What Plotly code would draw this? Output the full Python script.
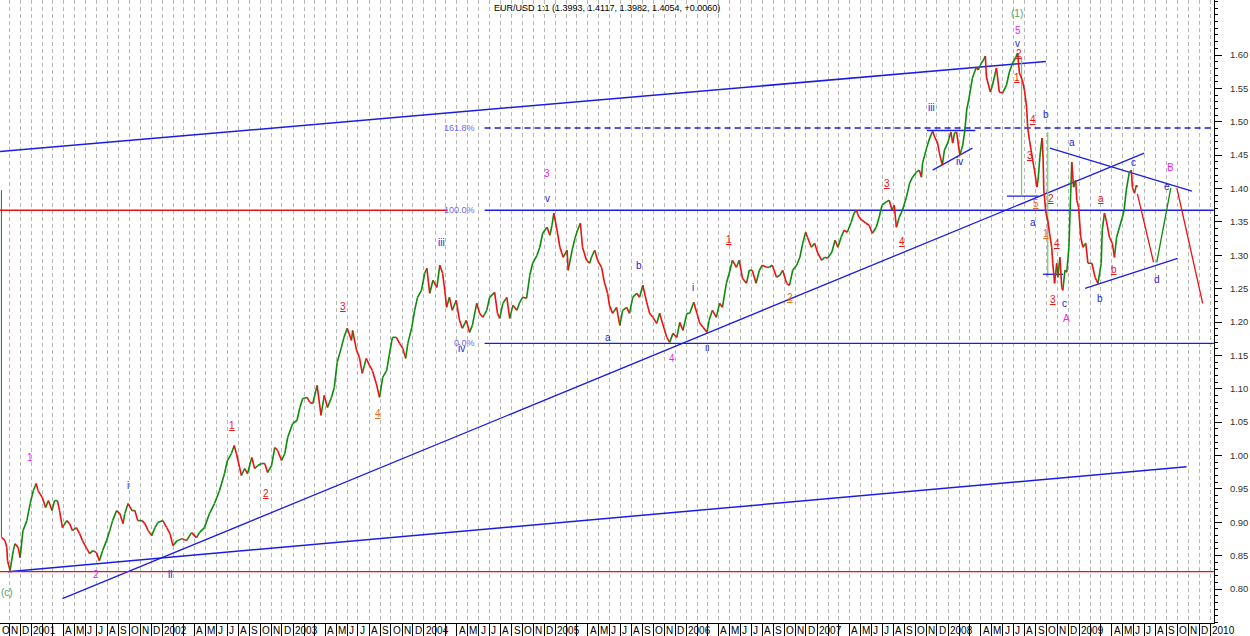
import plotly.graph_objects as go

# ---- data ----
title_text = "EUR/USD 1:1 (1.3993, 1.4117, 1.3982, 1.4054, +0.0060)"

dates = [
    "2000-10-11", "2000-10-20", "2000-10-25", "2000-10-27", "2000-11-03", "2000-11-12", "2000-11-17", "2000-11-26",
    "2000-12-01", "2000-12-09", "2000-12-20", "2000-12-29", "2001-01-07", "2001-01-15", "2001-01-20", "2001-02-01",
    "2001-02-10", "2001-02-18", "2001-02-28", "2001-03-07", "2001-03-15", "2001-03-21", "2001-03-29", "2001-04-10",
    "2001-04-18", "2001-04-26", "2001-05-07", "2001-05-16", "2001-05-24", "2001-06-05", "2001-06-13", "2001-06-22",
    "2001-07-02", "2001-07-10", "2001-07-19", "2001-07-30", "2001-08-08", "2001-08-16", "2001-08-27", "2001-09-05",
    "2001-09-14", "2001-09-19", "2001-09-28", "2001-10-09", "2001-10-17", "2001-10-25", "2001-11-06", "2001-11-14",
    "2001-11-23", "2001-12-03", "2001-12-12", "2001-12-20", "2002-01-03", "2002-01-14", "2002-01-23", "2002-01-31",
    "2002-02-12", "2002-02-26", "2002-03-10", "2002-03-24", "2002-04-07", "2002-04-15", "2002-04-29", "2002-05-13",
    "2002-05-27", "2002-06-10", "2002-06-24", "2002-07-02", "2002-07-13", "2002-07-21", "2002-07-27", "2002-08-05",
    "2002-08-10", "2002-08-19", "2002-08-27", "2002-09-08", "2002-09-16", "2002-09-25", "2002-10-05", "2002-10-14",
    "2002-10-22", "2002-11-02", "2002-11-11", "2002-11-19", "2002-11-30", "2002-12-09", "2002-12-17", "2002-12-31",
    "2003-01-12", "2003-01-20", "2003-01-28", "2003-02-09", "2003-02-17", "2003-02-25", "2003-03-09", "2003-03-20",
    "2003-03-29", "2003-04-07", "2003-04-18", "2003-04-26", "2003-05-04", "2003-05-15", "2003-05-23", "2003-06-01",
    "2003-06-13", "2003-06-16", "2003-06-27", "2003-07-05", "2003-07-13", "2003-07-24", "2003-08-02", "2003-08-10",
    "2003-08-21", "2003-08-30", "2003-09-08", "2003-09-19", "2003-09-27", "2003-10-05", "2003-10-16", "2003-10-25",
    "2003-11-03", "2003-11-11", "2003-11-17", "2003-11-28", "2003-12-06", "2003-12-14", "2003-12-25", "2004-01-03",
    "2004-01-09", "2004-01-17", "2004-01-26", "2004-02-06", "2004-02-14", "2004-02-22", "2004-02-28", "2004-03-04",
    "2004-03-12", "2004-03-20", "2004-03-31", "2004-04-09", "2004-04-17", "2004-04-28", "2004-05-07", "2004-05-15",
    "2004-05-27", "2004-06-04", "2004-06-13", "2004-06-24", "2004-07-02", "2004-07-16", "2004-07-24", "2004-07-30",
    "2004-08-08", "2004-08-19", "2004-08-27", "2004-09-05", "2004-09-16", "2004-09-24", "2004-10-02", "2004-10-13",
    "2004-10-22", "2004-10-30", "2004-11-11", "2004-11-19", "2004-11-27", "2004-12-09", "2004-12-17", "2004-12-23",
    "2004-12-28", "2005-01-06", "2005-01-14", "2005-01-23", "2005-02-03", "2005-02-06", "2005-02-17", "2005-02-25",
    "2005-03-04", "2005-03-12", "2005-03-18", "2005-03-29", "2005-04-07", "2005-04-12", "2005-04-21", "2005-04-29",
    "2005-05-10", "2005-05-18", "2005-05-27", "2005-06-01", "2005-06-10", "2005-06-21", "2005-06-30", "2005-07-08",
    "2005-07-19", "2005-07-27", "2005-08-05", "2005-08-16", "2005-08-24", "2005-09-02", "2005-09-13", "2005-09-21",
    "2005-09-30", "2005-10-11", "2005-10-19", "2005-10-27", "2005-11-08", "2005-11-16", "2005-11-25", "2005-12-06",
    "2005-12-14", "2005-12-23", "2006-01-03", "2006-01-11", "2006-01-22", "2006-01-31", "2006-02-08", "2006-02-17",
    "2006-02-28", "2006-03-06", "2006-03-15", "2006-03-26", "2006-04-04", "2006-04-12", "2006-04-23", "2006-05-01",
    "2006-05-10", "2006-05-21", "2006-05-29", "2006-06-07", "2006-06-18", "2006-06-26", "2006-07-04", "2006-07-15",
    "2006-07-24", "2006-08-01", "2006-08-13", "2006-08-21", "2006-08-29", "2006-09-10", "2006-09-19", "2006-09-27",
    "2006-10-08", "2006-10-16", "2006-10-25", "2006-11-05", "2006-11-14", "2006-11-22", "2006-11-30", "2006-12-05",
    "2006-12-16", "2006-12-25", "2007-01-03", "2007-01-14", "2007-01-22", "2007-01-30", "2007-02-11", "2007-02-20",
    "2007-02-28", "2007-03-09", "2007-03-17", "2007-03-26", "2007-04-06", "2007-04-14", "2007-04-20", "2007-04-28",
    "2007-05-06", "2007-05-17", "2007-05-26", "2007-06-04", "2007-06-15", "2007-06-23", "2007-07-01", "2007-07-12",
    "2007-07-21", "2007-07-29", "2007-08-04", "2007-08-10", "2007-08-18", "2007-08-27", "2007-09-07", "2007-09-16",
    "2007-09-24", "2007-10-05", "2007-10-13", "2007-10-19", "2007-10-22", "2007-11-03", "2007-11-11", "2007-11-19",
    "2007-11-25", "2007-12-03", "2007-12-08", "2007-12-16", "2007-12-22", "2007-12-31", "2008-01-09", "2008-01-14",
    "2008-01-19", "2008-01-25", "2008-02-03", "2008-02-11", "2008-02-17", "2008-02-22", "2008-02-29", "2008-03-09",
    "2008-03-20", "2008-03-25", "2008-04-03", "2008-04-09", "2008-04-14", "2008-04-17", "2008-04-28", "2008-05-04",
    "2008-05-15", "2008-05-23", "2008-06-01", "2008-06-12", "2008-06-20", "2008-06-29", "2008-07-07", "2008-07-13",
    "2008-07-18", "2008-07-26", "2008-08-01", "2008-08-07", "2008-08-10", "2008-08-15", "2008-08-21", "2008-08-24",
    "2008-08-29", "2008-09-05", "2008-09-08", "2008-09-13", "2008-09-19", "2008-09-22", "2008-09-24", "2008-09-30",
    "2008-10-05", "2008-10-10", "2008-10-16", "2008-10-19", "2008-10-24", "2008-10-30", "2008-11-02", "2008-11-08",
    "2008-11-13", "2008-11-16", "2008-11-22", "2008-11-27", "2008-12-03", "2008-12-08", "2008-12-11", "2008-12-16",
    "2008-12-22", "2008-12-25", "2008-12-30", "2009-01-05", "2009-01-11", "2009-01-19", "2009-01-25", "2009-02-05",
    "2009-02-14", "2009-02-22", "2009-03-03", "2009-03-06", "2009-03-12", "2009-03-17", "2009-03-26", "2009-04-03",
    "2009-04-09", "2009-04-15", "2009-04-23", "2009-05-01", "2009-05-06", "2009-05-12", "2009-05-20", "2009-05-26",
    "2009-05-29", "2009-06-04", "2009-06-09", "2009-06-12",
]

closes = [
    0.877, 0.8725, 0.862, 0.8425, 0.8275, 0.8575, 0.868, 0.862,
    0.847, 0.8875, 0.9025, 0.928, 0.9475, 0.958, 0.9475, 0.937,
    0.922, 0.9325, 0.9175, 0.9325, 0.9325, 0.9175, 0.892, 0.9025,
    0.898, 0.8875, 0.892, 0.883, 0.8725, 0.8605, 0.853, 0.8575,
    0.8545, 0.8425, 0.8575, 0.8725, 0.8875, 0.9025, 0.9175, 0.913,
    0.898, 0.913, 0.928, 0.9175, 0.9175, 0.9025, 0.9025, 0.898,
    0.8875, 0.88, 0.892, 0.8995, 0.9025, 0.892, 0.883, 0.865,
    0.8725, 0.8755, 0.8725, 0.8845, 0.877, 0.8845, 0.892, 0.913,
    0.928, 0.9475, 0.973, 0.9925, 1.003, 1.015, 1.003, 0.982,
    0.97, 0.9805, 0.973, 0.997, 0.9805, 0.985, 0.988, 0.988,
    0.9745, 0.985, 1.012, 1.0075, 0.9925, 1.003, 1.027, 1.048,
    1.0525, 1.072, 1.0855, 1.087, 1.0795, 1.078, 1.105, 1.06,
    1.09, 1.072, 1.087, 1.102, 1.1395, 1.1605, 1.177, 1.1905,
    1.1725, 1.1875, 1.1575, 1.147, 1.123, 1.1455, 1.135, 1.1275,
    1.108, 1.087, 1.117, 1.1275, 1.153, 1.177, 1.177, 1.168,
    1.1605, 1.1455, 1.168, 1.192, 1.2175, 1.237, 1.2475, 1.273,
    1.2805, 1.243, 1.2625, 1.252, 1.285, 1.273, 1.2475, 1.222,
    1.237, 1.2175, 1.2325, 1.2025, 1.1905, 1.2025, 1.1845, 1.195,
    1.228, 1.213, 1.207, 1.2175, 1.237, 1.2445, 1.213, 1.2055,
    1.228, 1.237, 1.2055, 1.225, 1.2175, 1.2295, 1.237, 1.2355,
    1.27, 1.288, 1.3, 1.312, 1.333, 1.342, 1.33, 1.345,
    1.363, 1.3375, 1.312, 1.297, 1.3075, 1.2775, 1.3075, 1.3255,
    1.3375, 1.348, 1.312, 1.2925, 1.288, 1.297, 1.3075, 1.2925,
    1.282, 1.2595, 1.243, 1.225, 1.213, 1.222, 1.195, 1.2175,
    1.222, 1.213, 1.237, 1.243, 1.237, 1.255, 1.2295, 1.213,
    1.207, 1.198, 1.213, 1.198, 1.177, 1.1695, 1.183, 1.177,
    1.1995, 1.1875, 1.213, 1.213, 1.2295, 1.213, 1.198, 1.192,
    1.1845, 1.2025, 1.2175, 1.207, 1.228, 1.222, 1.258, 1.273,
    1.2925, 1.282, 1.2925, 1.2655, 1.258, 1.2775, 1.2775, 1.258,
    1.2775, 1.285, 1.282, 1.282, 1.285, 1.267, 1.27, 1.2775,
    1.258, 1.255, 1.2775, 1.285, 1.297, 1.318, 1.3345, 1.327,
    1.312, 1.318, 1.303, 1.2925, 1.297, 1.2955, 1.3045, 1.3225,
    1.312, 1.327, 1.3375, 1.3345, 1.3495, 1.363, 1.3675, 1.357,
    1.3525, 1.348, 1.345, 1.333, 1.342, 1.357, 1.375, 1.3795,
    1.3825, 1.3675, 1.375, 1.342, 1.357, 1.3675, 1.387, 1.408,
    1.417, 1.4245, 1.4275, 1.417, 1.438, 1.462, 1.4755, 1.486,
    1.477, 1.468, 1.453, 1.435, 1.4575, 1.468, 1.4845, 1.468,
    1.483, 1.4845, 1.45, 1.465, 1.4875, 1.5175, 1.537, 1.5655,
    1.582, 1.5775, 1.588, 1.5925, 1.5985, 1.567, 1.5445, 1.555,
    1.5805, 1.5445, 1.543, 1.555, 1.5745, 1.588, 1.5955, 1.603,
    1.573, 1.5625, 1.5475, 1.522, 1.492, 1.4725, 1.453, 1.4425,
    1.4275, 1.402, 1.4125, 1.447, 1.4755, 1.447, 1.3975, 1.363,
    1.3525, 1.333, 1.312, 1.288, 1.258, 1.288, 1.267, 1.297,
    1.252, 1.2475, 1.2775, 1.2745, 1.312, 1.393, 1.4395, 1.402,
    1.4125, 1.3825, 1.372, 1.327, 1.312, 1.318, 1.288, 1.288,
    1.267, 1.258, 1.288, 1.3375, 1.363, 1.3525, 1.327, 1.318,
    1.297, 1.327, 1.342, 1.357, 1.3675, 1.3975, 1.423, 1.4275,
    1.402, 1.393, 1.405, 1.402,
]

# price labels shown on the right axis
y_ticks = [0.80, 0.85, 0.90, 0.95, 1.00, 1.05, 1.10, 1.15, 1.20, 1.25, 1.30,
           1.35, 1.40, 1.45, 1.50, 1.55, 1.60]

# Fibonacci levels and their labels
fib_labels = ["161.8%", "100.0%", "0.0%"]
fib_levels = [1.4905, 1.3675, 1.168]
fib_label_date = "2004-05-29"

BLUE = "#1c1ce8"
RED = "#ee1111"
GREEN = "#0b8c0b"
MAGENTA = "#ee22ee"
ORANGE = "#e2701c"
LIME = "#55dd55"
OLIVE = "#5c9e5c"
FIBTXT = "#6a6af0"

# drawn lines: start date, start price, end date, end price, colour, width, dash
drawn_lines = [
    ("2000-10-06", 1.4554, "2008-09-30", 1.5904, BLUE, 1.5, "solid"),
    ("2000-10-28", 0.826, "2009-10-27", 0.983, BLUE, 1.5, "solid"),
    ("2001-03-29", 0.7855, "2009-07-01", 1.453, BLUE, 1.3, "solid"),
    ("2000-10-06", 0.826, "2010-01-11", 0.826, RED, 1.3, "solid"),
    ("2000-10-06", 1.3675, "2004-03-07", 1.3675, RED, 1.5, "solid"),
    ("2004-06-18", 1.3675, "2010-01-11", 1.3675, BLUE, 1.5, "solid"),
    ("2004-06-18", 1.4905, "2010-01-11", 1.4905, BLUE, 1.5, "6px,4px"),
    ("2004-06-18", 1.168, "2010-01-11", 1.168, BLUE, 1.3, "solid"),
    ("2000-10-10", 1.3975, "2000-10-10", 0.877, "#1e7b1e", 1.0, "solid"),
    ("2007-11-03", 1.487, "2008-03-17", 1.487, BLUE, 1.5, "solid"),
    ("2007-11-19", 1.4275, "2008-03-09", 1.4605, BLUE, 1.2, "solid"),
    ("2008-06-13", 1.3885, "2008-09-10", 1.3885, BLUE, 1.3, "solid"),
    ("2008-07-24", 1.597, "2008-07-24", 1.3885, LIME, 1.2, "solid"),
    ("2008-10-05", 1.4845, "2008-10-05", 1.267, LIME, 1.2, "solid"),
    ("2008-09-22", 1.2715, "2008-11-17", 1.2715, BLUE, 1.3, "solid"),
    ("2008-10-11", 1.4605, "2009-11-11", 1.396, BLUE, 1.3, "solid"),
    ("2009-01-17", 1.2505, "2009-10-02", 1.2955, BLUE, 1.3, "solid"),
    ("2009-06-12", 1.392, "2009-07-27", 1.2895, RED, 1.3, "solid"),
    ("2009-08-05", 1.2895, "2009-09-13", 1.4005, GREEN, 1.3, "solid"),
    ("2009-09-30", 1.4005, "2009-12-11", 1.228, RED, 1.3, "solid"),
]

# wave labels: date, price, text, colour, underlined
wave_labels = [
    ("2008-07-10", 1.6615, "(1)", OLIVE, False),
    ("2008-07-13", 1.636, "5", MAGENTA, False),
    ("2008-07-13", 1.6165, "v", BLUE, False),
    ("2008-07-18", 1.603, "2", RED, True),
    ("2008-07-10", 1.567, "1", RED, True),
    ("2007-11-17", 1.522, "iii", BLUE, False),
    ("2008-02-03", 1.441, "iv", BLUE, False),
    ("2008-08-24", 1.504, "4", RED, True),
    ("2008-09-30", 1.5115, "b", BLUE, False),
    ("2008-08-16", 1.45, "3", RED, True),
    ("2008-12-11", 1.4695, "a", BLUE, False),
    ("2009-06-01", 1.4395, "c", BLUE, False),
    ("2008-09-02", 1.378, "5", ORANGE, True),
    ("2008-10-13", 1.3855, "2", RED, True),
    ("2009-03-03", 1.3855, "a", RED, True),
    ("2008-08-24", 1.3495, "a", BLUE, False),
    ("2008-09-30", 1.333, "1", ORANGE, True),
    ("2008-10-30", 1.318, "4", RED, True),
    ("2009-04-09", 1.279, "b", RED, True),
    ("2008-10-19", 1.234, "3", RED, True),
    ("2008-11-22", 1.228, "c", BLUE, False),
    ("2009-02-28", 1.2355, "b", BLUE, False),
    ("2008-11-25", 1.2055, "A", MAGENTA, False),
    ("2009-08-05", 1.264, "d", BLUE, False),
    ("2009-09-02", 1.4035, "e", BLUE, False),
    ("2009-09-13", 1.432, "B", MAGENTA, False),
    ("2000-12-29", 0.997, "1", MAGENTA, False),
    ("2001-09-28", 0.955, "i", BLUE, False),
    ("2001-07-02", 0.8215, "2", MAGENTA, False),
    ("2002-01-23", 0.8215, "ii", BLUE, False),
    ("2000-10-25", 0.7945, "(c)", OLIVE, False),
    ("2002-07-16", 1.045, "1", RED, True),
    ("2002-10-17", 0.943, "2", RED, True),
    ("2003-05-21", 1.2235, "3", RED, True),
    ("2003-08-25", 1.063, "4", ORANGE, True),
    ("2004-02-20", 1.3195, "iii", BLUE, False),
    ("2004-04-15", 1.1605, "iv", BLUE, False),
    ("2004-12-09", 1.423, "3", MAGENTA, False),
    ("2004-12-09", 1.3855, "v", BLUE, False),
    ("2005-08-22", 1.285, "b", BLUE, False),
    ("2005-05-29", 1.177, "a", BLUE, False),
    ("2005-11-22", 1.1455, "4", MAGENTA, False),
    ("2006-01-20", 1.252, "i", BLUE, False),
    ("2006-02-28", 1.162, "ii", BLUE, False),
    ("2006-04-29", 1.324, "1", RED, True),
    ("2006-10-17", 1.237, "2", ORANGE, True),
    ("2007-07-16", 1.408, "3", RED, True),
    ("2007-08-27", 1.321, "4", RED, True),
]

month_letters = "JFMAMJJASOND"
first_year, first_month = 2000, 10
n_months = 112  # Oct 2000 .. Jan 2010
x_start, x_end = "2000-10-06", "2010-01-11 12:00"

FONT = "Liberation Sans, Arial, sans-serif"

# ---- price line, split into rising (green) and falling (red) pieces ----
up_x, up_y, dn_x, dn_y = [], [], [], []
for i in range(1, len(dates)):
    seg_x = [dates[i - 1], dates[i], None]
    seg_y = [closes[i - 1], closes[i], None]
    if closes[i] >= closes[i - 1]:
        up_x += seg_x
        up_y += seg_y
    else:
        dn_x += seg_x
        dn_y += seg_y

fig = go.Figure()

for x0, y0, x1, y1, col, w, dash in drawn_lines:
    fig.add_trace(go.Scatter(x=[x0, x1], y=[y0, y1], mode="lines",
                             line=dict(color=col, width=w, dash=dash),
                             hoverinfo="skip", showlegend=False))

fig.add_trace(go.Scatter(x=up_x, y=up_y, mode="lines", line=dict(color=GREEN, width=1.6),
                         hoverinfo="skip", showlegend=False))
fig.add_trace(go.Scatter(x=dn_x, y=dn_y, mode="lines", line=dict(color=RED, width=1.6),
                         hoverinfo="skip", showlegend=False))

annotations = []
# title
annotations.append(dict(text=title_text, x=0.5, y=1, xref="paper", yref="paper",
                        xanchor="center", yanchor="top", yshift=-1, showarrow=False,
                        font=dict(family=FONT, size=9, color="black")))
# fib labels
for lab, lvl in zip(fib_labels, fib_levels):
    annotations.append(dict(text=lab, x=fib_label_date, y=lvl, xanchor="right", yanchor="middle",
                            showarrow=False, font=dict(family=FONT, size=9, color=FIBTXT)))
# wave labels
for d, p, t, col, ul in wave_labels:
    annotations.append(dict(text=f"<u>{t}</u>" if ul else t, x=d, y=p, showarrow=False,
                            xanchor="center", yanchor="middle",
                            font=dict(family=FONT, size=10, color=col)))
# month labels under the axis (first one starts at the left edge)
for k in range(n_months):
    m = (first_month - 1 + k) % 12
    yr = first_year + (first_month - 1 + k) // 12
    if m in (1, 2):
        continue
    txt = str(yr) if m == 0 else month_letters[m]
    xpos = x_start if k == 0 else f"{yr}-{m + 1:02d}-01"
    annotations.append(dict(text=txt, x=xpos, y=0, xref="x", yref="paper",
                            xanchor="left", yanchor="top", xshift=0, yshift=0, showarrow=False,
                            font=dict(family=FONT, size=10, color="black")))

fig.update_layout(
    width=1250, height=636,
    margin=dict(l=0, r=36, t=0, b=13),
    paper_bgcolor="white", plot_bgcolor="white",
    annotations=annotations,
    showlegend=False,
    xaxis=dict(type="date", range=[x_start, x_end],
               tick0="2000-10-01", dtick="M1", ticks="outside", ticklen=13,
               tickcolor="black", tickwidth=1, showticklabels=False,
               showgrid=True, gridcolor="#b8b8b8", griddash="4px,3px", gridwidth=1,
               showline=True, linecolor="black", linewidth=1, zeroline=False),
    yaxis=dict(side="right", range=[0.7491, 1.6824], tickmode="array", tickvals=y_ticks,
               tickformat=".2f", ticks="outside", ticklen=7, tickcolor="black",
               showline=True, linecolor="black", linewidth=1, showgrid=False,
               zeroline=False, automargin=False, ticklabelstandoff=6,
               tickfont=dict(family=FONT, size=9.5, color="#333333"),
               minor=dict(tickmode="linear", tick0=0.8, dtick=0.01, ticks="outside", ticklen=3,
                          tickcolor="black", showgrid=False)),
)

# the page's default body margin would shift the figure by 8px
fig.write_html("out.html", config={"displayModeBar": False},
               post_script="document.body.style.margin='0px';")
